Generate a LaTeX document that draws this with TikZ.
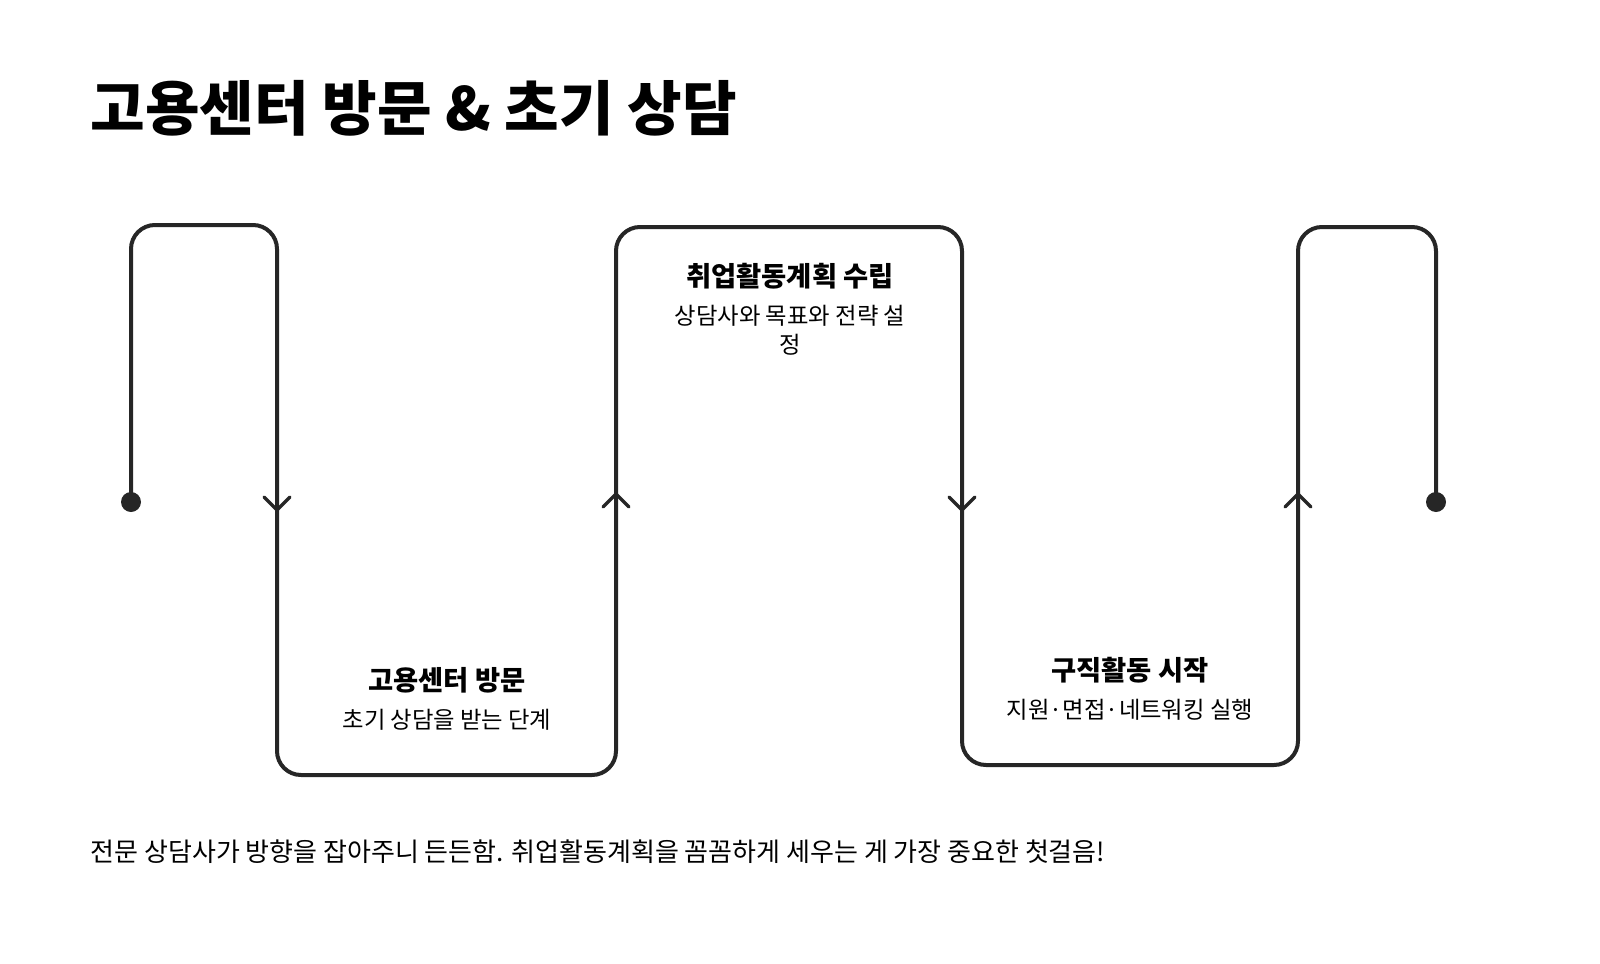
\documentclass[tikz,border=0pt]{standalone}
\usepackage{fontspec}
\setmainfont{Noto Sans CJK KR}
\begin{document}
\begin{tikzpicture}[x=0.75pt,y=-0.75pt,
  line/.style={line width=3pt,color=black!85,rounded corners=18pt},
  chev/.style={line width=2.6pt,color=black!85,line cap=round,line join=round},
  ttl/.style={anchor=west,font=\fontsize{44.5}{50}\selectfont\bfseries},
  head/.style={font=\fontsize{20.5}{24}\selectfont\bfseries},
  sub/.style={font=\fontsize{17.5}{22}\selectfont,align=center},
  foot/.style={anchor=west,font=\fontsize{19.5}{22}\selectfont}]
\useasboundingbox (0,0) rectangle (1600,964);
\coordinate (s) at (131,502);
\coordinate (e) at (1436,502);
\draw[line] (s) -- (131,225) -- (277,225) -- (277,775) -- (616,775) -- (616,227) -- (962,227) -- (962,765) -- (1298,765) -- (1298,227) -- (1436,227) -- (e);
\fill[black!85] (s) circle (10);
\fill[black!85] (e) circle (10);
\coordinate (a1) at (277,510);
\coordinate (a2) at (616,494);
\coordinate (a3) at (962,510);
\coordinate (a4) at (1298,494);
\draw[chev] ([shift={(-13,-13)}]a1) -- (a1) -- ([shift={(13,-13)}]a1);
\draw[chev] ([shift={(-13,13)}]a2) -- (a2) -- ([shift={(13,13)}]a2);
\draw[chev] ([shift={(-13,-13)}]a3) -- (a3) -- ([shift={(13,-13)}]a3);
\draw[chev] ([shift={(-13,13)}]a4) -- (a4) -- ([shift={(13,13)}]a4);
\node[ttl] (t) at (86,108) {고용센터 방문 \& 초기 상담};
\node[head] (h1) at (447,680) {고용센터 방문};
\node[sub] (d1) at (447,720) {초기 상담을 받는 단계};
\node[head] (h2) at (790,276) {취업활동계획 수립};
\node[sub,anchor=north] (d2) at (790,300) {상담사와 목표와 전략 설\\정};
\node[head] (h3) at (1130,670) {구직활동 시작};
\node[sub] (d3) at (1130,710) {지원·면접·네트워킹 실행};
\node[foot] (f) at (86,852) {전문 상담사가 방향을 잡아주니 든든함. 취업활동계획을 꼼꼼하게 세우는 게 가장 중요한 첫걸음!};
\end{tikzpicture}
\end{document}
